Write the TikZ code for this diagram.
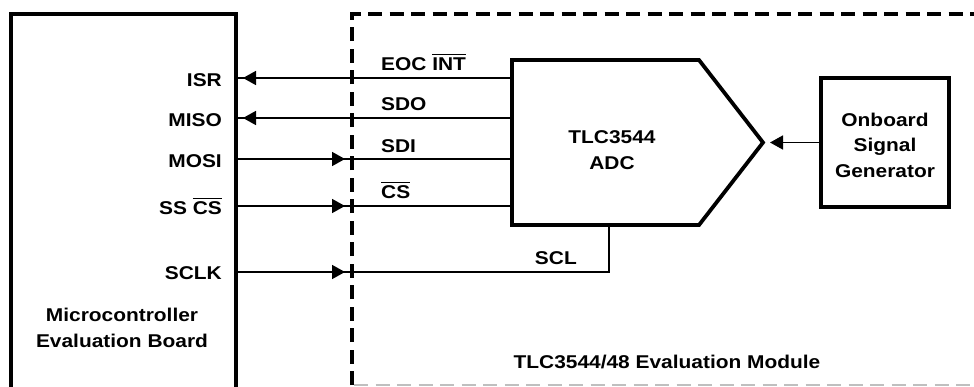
\documentclass[tikz,border=0pt]{standalone}
\usepackage{fontspec}
\setmainfont{Liberation Sans}[FakeStretch=1.13]
\usetikzlibrary{arrows.meta}
\newcommand\myovl[1]{\setbox0\hbox{#1}\rlap{\raise\dimexpr\ht0+2pt\relax\hbox{\rule{\wd0}{1.1pt}}}\box0}
\begin{document}
\begin{tikzpicture}[x=1pt,y=-1pt,
  lbl/.style={font=\fontsize{18.5}{25.5}\selectfont\bfseries, inner sep=0pt},
  sig/.style={line width=1.6pt},
  box/.style={line width=3.8pt, outer sep=0pt},
  tip/.style={-{Triangle[length=13pt,width=14pt]}},
  dashbox/.style={line width=3.8pt, dash pattern=on 14pt off 7.5pt}
]
\useasboundingbox (0,0) rectangle (974,386);
\clip (0,0) rectangle (974,386);
\fill[white] (0,0) rectangle (974,386);

% boxes
\node[draw, box, minimum width=225pt, minimum height=420pt, anchor=north west, inner sep=0pt] (mcu) at (11,14) {};
\node[minimum width=700pt, minimum height=371pt, anchor=north west, inner sep=0pt, outer sep=0pt] (evm) at (352,14) {};
\draw[dashbox] (evm.south west) -- (evm.north west) -- (evm.north east);
\draw[dashbox, line width=1.6pt, black!25] ([xshift=2pt]evm.south west) -- (evm.south east);
\draw[box] (512,60) -- (699,60) -- (763,142.5) -- (699,225) -- (512,225) -- cycle;
\coordinate (adcin) at (763,142.5);
\node[lbl, align=center] (adc) at (612,150) {TLC3544\\ADC};
\node[draw, box, minimum width=128pt, minimum height=129pt, anchor=north west, inner sep=0pt] (gen) at (821,78) {};
\node[lbl, align=center] (gentxt) at (885,145) {Onboard\\Signal\\Generator};

% pins on ADC
\coordinate (pISR) at (512,78);
\coordinate (pMISO) at (512,118);
\coordinate (pMOSI) at (512,159);
\coordinate (pCS) at (512,206);
\coordinate (pSCLb) at (609,225);
\coordinate (pSCL) at (609,272);

% outputs to MCU
\draw[sig] (pISR) -- (pISR -| mcu.east);
\draw[sig, tip] (pISR) -- ([xshift=7pt]pISR -| mcu.east);
\draw[sig] (pMISO) -- (pMISO -| mcu.east);
\draw[sig, tip] (pMISO) -- ([xshift=7pt]pMISO -| mcu.east);
% inputs from MCU
\draw[sig] (pMOSI -| mcu.east) -- (pMOSI);
\draw[sig, tip] (pMOSI -| mcu.east) -- ([xshift=-7pt]pMOSI -| evm.west);
\draw[sig] (pCS -| mcu.east) -- (pCS);
\draw[sig, tip] (pCS -| mcu.east) -- ([xshift=-7pt]pCS -| evm.west);
\draw[sig] (pSCL -| mcu.east) -- (pSCL) -- (pSCLb);
\draw[sig, tip] (pSCL -| mcu.east) -- ([xshift=-7pt]pSCL -| evm.west);
% generator
\draw[sig, tip, shorten >=7pt] (gen.west) -- (adcin);

% MCU labels
\node[lbl, anchor=base east] (lISR) at (222,86) {ISR};
\node[lbl, anchor=base east] (lMISO) at (222,126) {MISO};
\node[lbl, anchor=base east] (lMOSI) at (222,167) {MOSI};
\node[lbl, anchor=base east] (lSS) at (222,214) {SS \myovl{CS}};
\node[lbl, anchor=base east] (lSCLK) at (222,279) {SCLK};
\node[lbl, align=center, anchor=base] (lmcu) at (122,347) {Microcontroller\\Evaluation Board};

% ADC-side labels
\node[lbl, anchor=base west] (lEOC) at (381,70) {EOC \myovl{INT}};
\node[lbl, anchor=base west] (lSDO) at (381,110) {SDO};
\node[lbl, anchor=base west] (lSDI) at (381,152) {SDI};
\node[lbl, anchor=base west] (lCS) at (381,198) {\myovl{CS}};
\node[lbl, anchor=base east] (lSCL) at (577,264) {SCL};
\node[lbl, anchor=base] (levm) at (667,368) {TLC3544/48 Evaluation Module};
\end{tikzpicture}
\end{document}
